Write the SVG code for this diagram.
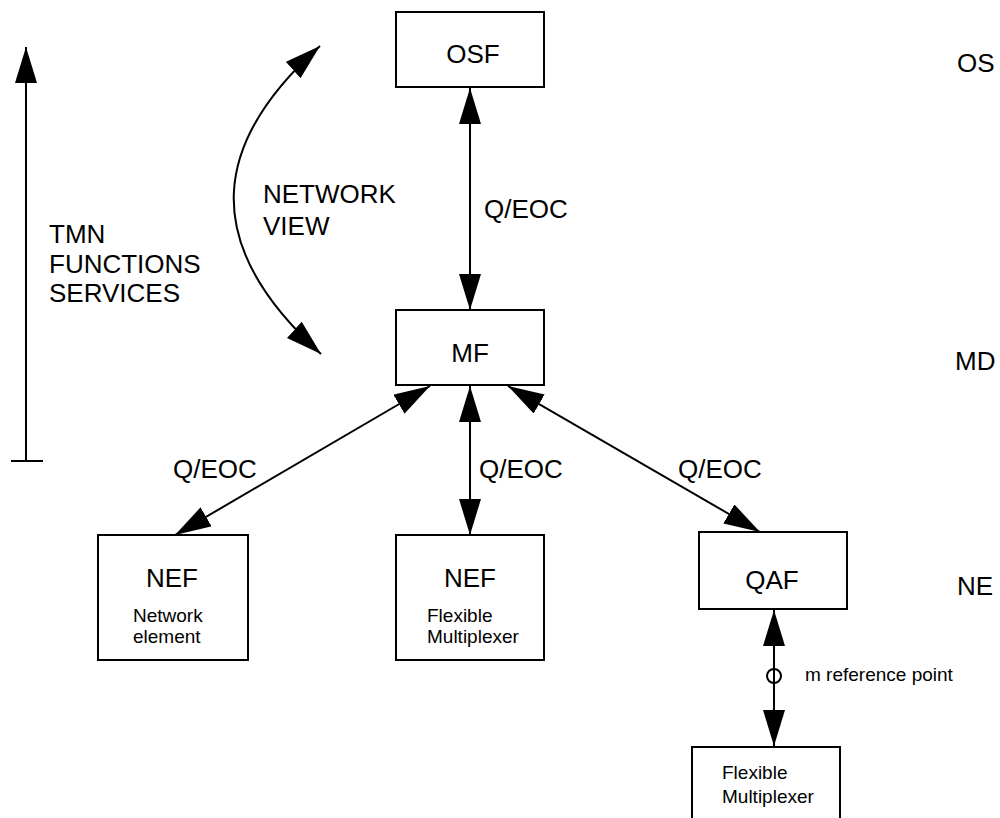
<svg xmlns="http://www.w3.org/2000/svg" width="1000" height="818" viewBox="0 0 1000 818">
<style>
.box{fill:#fff;stroke:#000;stroke-width:2}
.ln{fill:none;stroke:#000;stroke-width:2}
.dbl{marker-start:url(#ah);marker-end:url(#ah)}
text{font-family:"Liberation Sans",Arial,sans-serif;fill:#000}
.big{font-size:26px}
.sm{font-size:19px}
.mid{text-anchor:middle}
</style>
<defs>
<marker id="ah" viewBox="0 -11 36 22" refX="36" refY="0" markerWidth="36" markerHeight="22" markerUnits="userSpaceOnUse" orient="auto-start-reverse">
<path d="M0,-11 L36,0 L0,11 Z" fill="#000"/>
</marker>
</defs>
<rect width="1000" height="818" fill="#fff"/>
<g id="connectors">
<line class="ln" x1="26" y1="462" x2="26" y2="47" marker-end="url(#ah)"/>
<line class="ln" x1="11" y1="461" x2="43" y2="461"/>
<path class="ln dbl" d="M320,46 C215,140 195,240 321,354"/>
<line class="ln dbl" x1="470" y1="88" x2="470" y2="310"/>
<line class="ln dbl" x1="430" y1="386" x2="175" y2="535"/>
<line class="ln dbl" x1="470" y1="386" x2="470" y2="535"/>
<line class="ln dbl" x1="508" y1="386" x2="760" y2="532"/>
<line class="ln dbl" x1="774" y1="610" x2="774" y2="746"/>
<circle class="ln" cx="774" cy="676" r="7"/>
<text class="big" x="484" y="218">Q/EOC</text>
<text class="big" x="173" y="478">Q/EOC</text>
<text class="big" x="479" y="478">Q/EOC</text>
<text class="big" x="678" y="478">Q/EOC</text>
<text class="sm" x="805" y="681">m reference point</text>
</g>
<g id="labels">
<text class="big" x="49"><tspan x="49" y="243">TMN</tspan><tspan x="49" y="273">FUNCTIONS</tspan><tspan x="49" y="302">SERVICES</tspan></text>
<text class="big"><tspan x="263" y="203">NETWORK</tspan><tspan x="263" y="235">VIEW</tspan></text>
<text class="big" x="957" y="72">OS</text>
<text class="big" x="955" y="370">MD</text>
<text class="big" x="957" y="595">NE</text>
</g>
<g id="osf">
<rect class="box" x="396" y="12" width="148" height="75"/>
<text class="big mid" x="473" y="63">OSF</text>
</g>
<g id="mf">
<rect class="box" x="396" y="310" width="148" height="75"/>
<text class="big mid" x="470" y="362">MF</text>
</g>
<g id="nef1">
<rect class="box" x="98" y="535" width="150" height="125"/>
<text class="big mid" x="172" y="587">NEF</text>
<text class="sm" x="133" y="622">Network</text>
<text class="sm" x="133" y="643">element</text>
</g>
<g id="nef2">
<rect class="box" x="396" y="535" width="148" height="125"/>
<text class="big mid" x="470" y="587">NEF</text>
<text class="sm" x="427" y="622">Flexible</text>
<text class="sm" x="427" y="643">Multiplexer</text>
</g>
<g id="qaf">
<rect class="box" x="699" y="532" width="148" height="77"/>
<text class="big mid" x="772" y="589">QAF</text>
</g>
<g id="flexmux">
<rect class="box" x="692" y="747" width="148" height="90"/>
<text class="sm" x="722" y="779">Flexible</text>
<text class="sm" x="722" y="803">Multiplexer</text>
</g>
</svg>
